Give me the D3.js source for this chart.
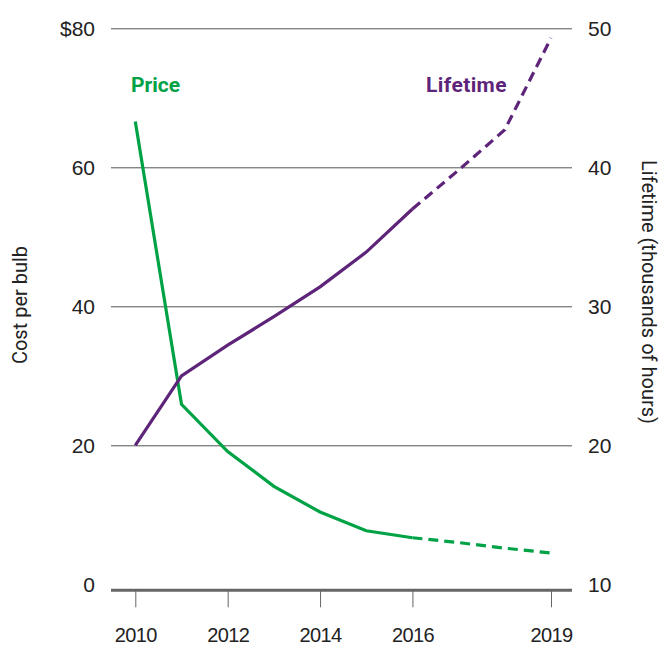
<!DOCTYPE html>
<html>
<head>
<meta charset="utf-8">
<script src="https://cdn.jsdelivr.net/npm/d3@7"></script>
<style>
  body { margin: 0; background: #fff; }
  svg { display: block; font-family: Roboto, "Noto Sans", sans-serif; }
  .tick text { fill: #222; }
</style>
</head>
<body>
<div id="chart"></div>
<script>
// frame and plot area
const FRAME_WIDTH = 667;
const FRAME_HEIGHT = 647;
const PLOT = {left: 111, right: 572, top: 28.3, bottom: 584.3};

// data
const years = [2010, 2011, 2012, 2013, 2014, 2015, 2016];
const priceValues = [66.6, 25.9, 19.1, 14.1, 10.4, 7.7, 6.7];          // $ per bulb
const lifetimeValues = [20, 25.0, 27.2, 29.25, 31.4, 33.9, 37.0];      // thousands of hours
const projYears = [2016, 2017, 2018, 2019];
const priceProj = [6.7, 6.0, 5.2, 4.5];
const lifetimeProj = [37.0, 39.8, 42.7, 49.3];
const xTicks = [2010, 2012, 2014, 2016, 2019];
const leftTicks = [0, 20, 40, 60, 80];
const rightTicks = [10, 20, 30, 40, 50];

const GREEN = "#00a246";
const PURPLE = "#5e2479";

const svg = d3.select("#chart")
  .append("svg")
  .attr("width", FRAME_WIDTH)
  .attr("height", FRAME_HEIGHT);

// scales
const xScale = d3.scaleLinear().domain([2010, 2019]).range([135.3, 551]);
const yLeft = d3.scaleLinear().domain([0, 80]).range([PLOT.bottom, PLOT.top]);
const yRight = d3.scaleLinear().domain([10, 50]).range([PLOT.bottom, PLOT.top]);

// left axis with gridlines
const gLeft = svg.append("g")
  .attr("transform", "translate(" + PLOT.left + ",0)")
  .call(d3.axisLeft(yLeft)
    .tickValues(leftTicks)
    .tickSize(-(PLOT.right - PLOT.left))
    .tickPadding(16)
    .tickFormat(d => d === 80 ? "$80" : d));
gLeft.select(".domain").remove();
gLeft.selectAll(".tick line").attr("stroke", "#555").attr("stroke-width", 1)
  .attr("display", d => d === 0 ? "none" : null);
gLeft.selectAll(".tick text").attr("font-size", 21);

// right axis
const gRight = svg.append("g")
  .attr("transform", "translate(" + PLOT.right + ",0)")
  .call(d3.axisRight(yRight).tickValues(rightTicks).tickSize(0).tickPadding(16));
gRight.select(".domain").remove();
gRight.selectAll(".tick text").attr("font-size", 21);

// bottom axis
const baseY = yLeft(0) + 6;
svg.append("line")
  .attr("x1", PLOT.left).attr("x2", PLOT.right)
  .attr("y1", baseY).attr("y2", baseY)
  .attr("stroke", "#666").attr("stroke-width", 3);

const gBottom = svg.append("g")
  .attr("transform", "translate(0," + baseY + ")")
  .call(d3.axisBottom(xScale)
    .tickValues(xTicks)
    .tickSize(17)
    .tickSizeOuter(0)
    .tickPadding(21)
    .tickFormat(d3.format("d")));
gBottom.select(".domain").remove();
gBottom.selectAll(".tick line").attr("stroke", "#666");
gBottom.selectAll(".tick text").attr("font-size", 20).attr("letter-spacing", "-0.6px");

// axis titles
svg.append("text")
  .attr("transform", "translate(27,305) rotate(-90)")
  .attr("text-anchor", "middle")
  .attr("font-size", 20)
  .attr("fill", "#222")
  .text("Cost per bulb");

svg.append("text")
  .attr("transform", "translate(642,292) rotate(90)")
  .attr("text-anchor", "middle")
  .attr("font-size", 20)
  .attr("fill", "#222")
  .text("Lifetime (thousands of hours)");

// lines
const priceLine = d3.line().x(d => xScale(d[0])).y(d => yLeft(d[1]));
const lifeLine = d3.line().x(d => xScale(d[0])).y(d => yRight(d[1]));

svg.append("path")
  .datum(d3.zip(years, priceValues))
  .attr("d", priceLine)
  .attr("fill", "none").attr("stroke", GREEN).attr("stroke-width", 3.2);

svg.append("path")
  .datum(d3.zip(projYears, priceProj))
  .attr("d", priceLine)
  .attr("fill", "none").attr("stroke", GREEN).attr("stroke-width", 3.2)
  .attr("stroke-dasharray", "10,6");

svg.append("path")
  .datum(d3.zip(years, lifetimeValues))
  .attr("d", lifeLine)
  .attr("fill", "none").attr("stroke", PURPLE).attr("stroke-width", 3.2);

svg.append("path")
  .datum(d3.zip(projYears, lifetimeProj))
  .attr("d", lifeLine)
  .attr("fill", "none").attr("stroke", PURPLE).attr("stroke-width", 3.2)
  .attr("stroke-dasharray", "10,6");

// series labels
svg.append("text")
  .attr("x", 131).attr("y", 92)
  .attr("font-size", 21).attr("font-weight", "bold")
  .attr("fill", GREEN)
  .text("Price");

svg.append("text")
  .attr("x", 426).attr("y", 92)
  .attr("font-size", 21).attr("font-weight", "bold")
  .attr("letter-spacing", "0.4px")
  .attr("fill", PURPLE)
  .text("Lifetime");
</script>
</body>
</html>
